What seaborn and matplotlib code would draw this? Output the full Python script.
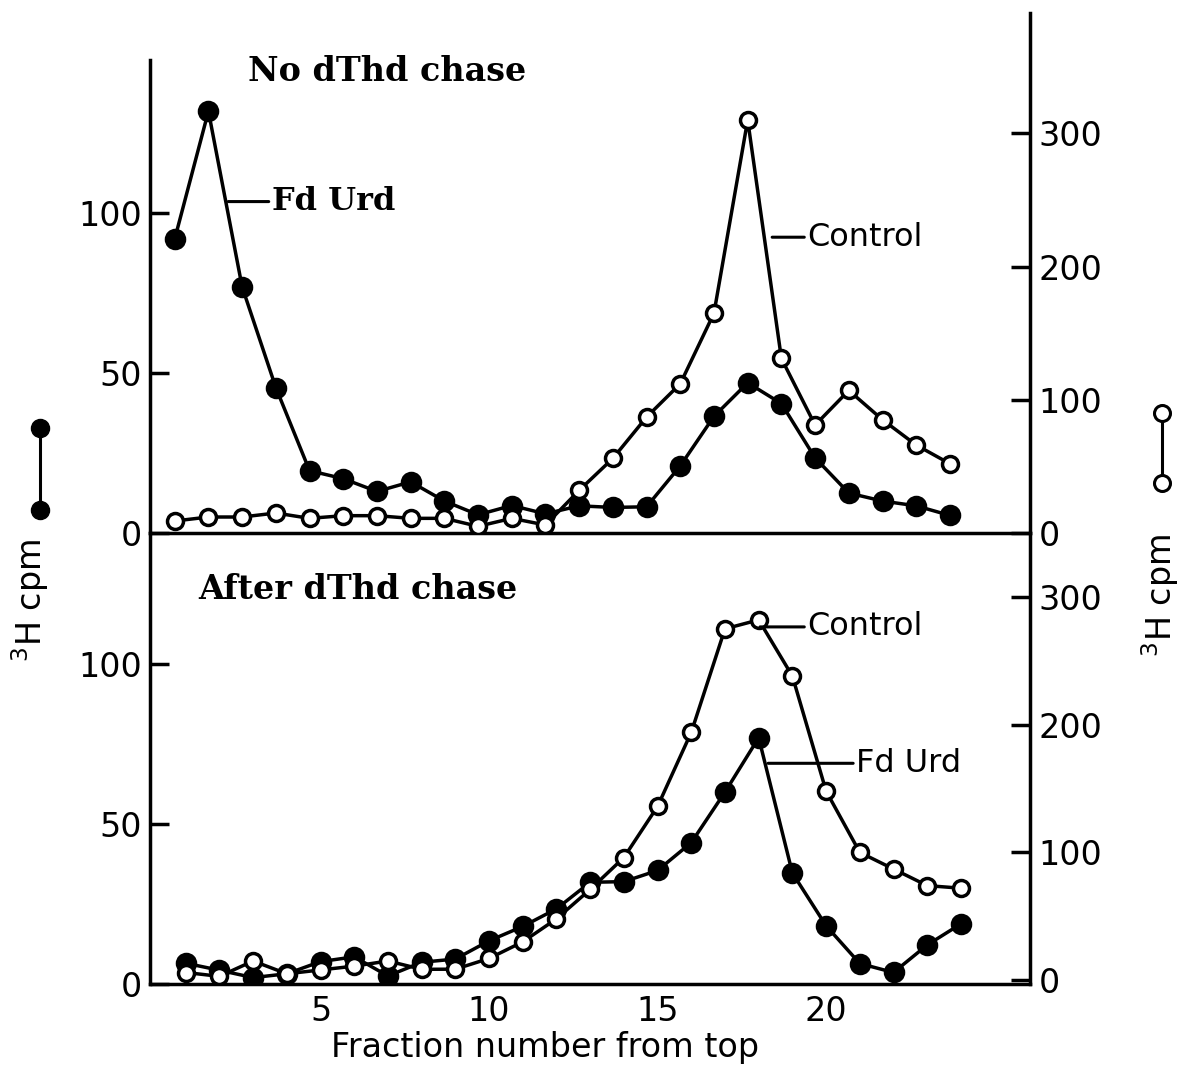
import matplotlib
matplotlib.use("Agg")
import matplotlib.pyplot as plt
import matplotlib.transforms as mtransforms
import seaborn as sns
from matplotlib.lines import Line2D

# ---- data ----
fraction = list(range(1, 25))
top_fdurd = [92, 132, 77, 45.5, 19.5, 17, 13, 16, 10, 5.7, 8.6, 6, 8.5, 8, 8.2,
             21, 36.5, 47, 40.5, 23.5, 12.5, 10, 8.5, 5.5]
top_control = [9, 12, 12, 15, 11, 13, 13, 11, 11, 5, 11, 6, 32, 56, 87,
               112, 165, 310, 131, 81, 107, 85, 66, 52]
bot_fdurd = [6.5, 4.3, 2, 3.2, 7, 8.5, 2.5, 6.8, 7.8, 13.5, 18, 23.5, 31.8, 32, 35.5,
             44.2, 60, 77, 34.7, 18.2, 6.4, 3.6, 12.2, 18.8]
bot_control = [6, 3, 15, 5, 8, 11, 15, 8.5, 8.6, 17, 30, 48, 71, 96, 136,
               194, 275, 282, 238, 148, 100, 87, 74, 72]
x_ticks = [5, 10, 15, 20]
left_ticks = [0, 50, 100]
right_ticks = [0, 100, 200, 300]

sns.set_style("white")
plt.rcParams['font.family'] = ['DejaVu Sans']
plt.rcParams.update({'text.color': 'black', 'axes.labelcolor': 'black',
                     'xtick.color': 'black', 'ytick.color': 'black',
                     'axes.edgecolor': 'black'})

W, H = 1186, 1078
fig = plt.figure(figsize=(W / 100, H / 100), dpi=100)


def fx(px):
    return px / W


def fy(py):
    return 1 - py / H


ax_b = fig.add_axes([fx(150), fy(984), fx(1030) - fx(150), (984 - 533) / H])
ax_t = fig.add_axes([fx(150), fy(533), fx(1030) - fx(150), (533 - 60) / H], sharex=ax_b)
ax_tr = ax_t.twinx()
ax_br = ax_b.twinx()
for ax in (ax_t, ax_b, ax_tr, ax_br):
    ax.patch.set_visible(False)

LW = 2.5


def draw(ax, y, filled):
    sns.lineplot(x=fraction, y=y, ax=ax, color='black', lw=LW, marker='o',
                 markersize=13 if filled else 11.5,
                 markerfacecolor='black' if filled else 'white',
                 markeredgecolor='black', markeredgewidth=LW, legend=False)


draw(ax_t, top_fdurd, True)
draw(ax_tr, top_control, False)
draw(ax_b, bot_fdurd, True)
draw(ax_br, bot_control, False)

# the upper panel's points sit slightly left of the tick grid in the original drawing
shift = mtransforms.ScaledTranslation(-11 / 100, 0, fig.dpi_scale_trans)
for ax in (ax_t, ax_tr):
    for ln in ax.lines:
        ln.set_transform(ax.transData + shift)

ax_t.set_xlim(-0.06, 26.05)
ax_t.set_ylim(0, 148)
ax_tr.set_ylim(0, 355)
ax_b.set_ylim(0, 141)
ax_br.set_ylim(-3, 350)

for ax in (ax_t, ax_b, ax_tr, ax_br):
    ax.set_xlabel("")
    ax.set_ylabel("")
    for s in ax.spines.values():
        s.set_linewidth(LW)
        s.set_color('black')
    ax.spines['top'].set_visible(False)

for ax in (ax_t, ax_b):
    ax.spines['right'].set_visible(False)
    ax.set_yticks(left_ticks)
    ax.set_xticks(x_ticks)
    ax.tick_params(direction='in', length=14, width=LW, labelsize=24, pad=6,
                   colors='black')
ax_t.tick_params(axis='x', labelbottom=False)
ax_b.tick_params(axis='x', pad=8)

for ax in (ax_tr, ax_br):
    ax.spines['left'].set_visible(False)
    ax.spines['bottom'].set_visible(False)
    ax.set_yticks(right_ticks)
    ax.tick_params(axis='y', direction='in', length=14, width=LW, labelsize=24,
                   pad=6, colors='black')
ax_tr.spines['right'].set_bounds(0, 390)

# panel titles
ax_t.text(0.111, 0.975, "No dThd chase", transform=ax_t.transAxes, color='black',
          family='DejaVu Serif', weight='bold', fontsize=24, ha='left', va='center')
ax_b.text(0.0545, 0.874, "After dThd chase", transform=ax_b.transAxes, color='black',
          family='DejaVu Serif', weight='bold', fontsize=24, ha='left', va='center')

arrow = dict(arrowstyle='-', lw=2.2, color='black', shrinkA=0, shrinkB=0)
ax_t.annotate("Fd Urd", xy=(2.26, 103.7), xytext=(3.56, 103.7), ha='left', va='center',
              family='DejaVu Serif', weight='bold', fontsize=23, arrowprops=arrow)
ax_tr.annotate("Control", xy=(18.4, 222), xytext=(19.45, 222), ha='left', va='center',
               fontsize=23, arrowprops=arrow)
ax_br.annotate("Control", xy=(18.04, 276.5), xytext=(19.45, 276.5), ha='left', va='center',
               fontsize=23, arrowprops=arrow)
ax_b.annotate("Fd Urd", xy=(18.28, 69), xytext=(20.9, 69), ha='left', va='center',
              fontsize=23, arrowprops=arrow)

# axis labels with series glyphs
fig.text(fx(30), fy(600), "$^{3}$H cpm", rotation=90, ha='center', va='center', fontsize=24)
fig.add_artist(Line2D([fx(40), fx(40)], [fy(428), fy(510)], transform=fig.transFigure,
                      color='black', lw=2.2, marker='o', markersize=13,
                      markerfacecolor='black', markeredgecolor='black'))
fig.text(fx(1160), fy(595), "$^{3}$H cpm", rotation=90, ha='center', va='center', fontsize=24)
fig.add_artist(Line2D([fx(1162), fx(1162)], [fy(413), fy(483)], transform=fig.transFigure,
                      color='black', lw=2.2, marker='o', markersize=11.5,
                      markerfacecolor='white', markeredgecolor='black', markeredgewidth=2.2))

fig.text(fx(545), fy(1048), "Fraction number from top", ha='center', va='center', fontsize=24)

fig.savefig("out.png", dpi=100)
